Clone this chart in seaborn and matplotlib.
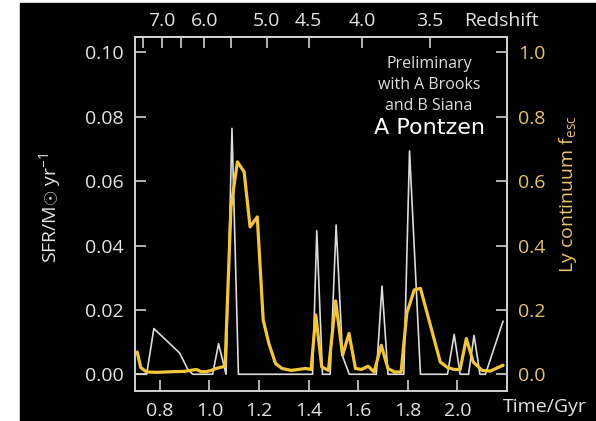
import matplotlib
matplotlib.use("Agg")
import matplotlib.pyplot as plt
from matplotlib.patches import Rectangle
import seaborn as sns
import pandas as pd

# Star formation rate history (left axis)
sfr_time = [0.707, 0.747, 0.776, 0.880, 0.913, 0.933, 1.013, 1.037, 1.067, 1.091,
            1.117, 1.416, 1.433, 1.456, 1.487, 1.511, 1.537, 1.564, 1.673, 1.696,
            1.720, 1.784, 1.807, 1.851, 1.960, 1.987, 2.011, 2.045, 2.067, 2.091,
            2.113, 2.184]
sfr = [0.0, 0.0, 0.0142, 0.0066, 0.0015, 0.0, 0.0, 0.0095, 0.0, 0.0764,
       0.0, 0.0, 0.0446, 0.0, 0.0, 0.0464, 0.0056, 0.0, 0.0, 0.0274,
       0.0, 0.0, 0.0694, 0.0, 0.0, 0.0124, 0.0, 0.0, 0.0121, 0.0,
       0.0, 0.0165]

# Lyman continuum escape fraction (right axis)
fesc_time = [0.709, 0.723, 0.747, 0.790, 0.850, 0.900, 0.947, 0.967, 0.987, 1.007,
             1.027, 1.063, 1.087, 1.113, 1.140, 1.164, 1.193, 1.217, 1.240, 1.267,
             1.293, 1.330, 1.387, 1.410, 1.429, 1.453, 1.480, 1.509, 1.537, 1.563,
             1.589, 1.613, 1.640, 1.664, 1.693, 1.720, 1.747, 1.773, 1.796, 1.826,
             1.851, 1.931, 1.960, 1.987, 2.011, 2.036, 2.064, 2.100, 2.133, 2.184]
fesc = [0.069, 0.021, 0.007, 0.006, 0.008, 0.009, 0.015, 0.008, 0.008, 0.012,
        0.018, 0.025, 0.520, 0.660, 0.629, 0.458, 0.489, 0.168, 0.095, 0.033,
        0.018, 0.012, 0.018, 0.015, 0.184, 0.023, 0.012, 0.228, 0.059, 0.127,
        0.018, 0.015, 0.025, 0.007, 0.090, 0.018, 0.007, 0.007, 0.190, 0.262,
        0.267, 0.038, 0.021, 0.015, 0.015, 0.111, 0.038, 0.012, 0.010, 0.028]

# Axis ticks
time_ticks = [0.8, 1.0, 1.2, 1.4, 1.6, 1.8, 2.0]
sfr_ticks = [0.00, 0.02, 0.04, 0.06, 0.08, 0.10]
fesc_ticks = [0.0, 0.2, 0.4, 0.6, 0.8, 1.0]
redshift_tick_time = [0.732, 0.808, 0.884, 0.980, 1.088, 1.232, 1.400, 1.616, 1.888]
redshift_labels = ["", "7.0", "", "6.0", "", "5.0", "4.5", "4.0", "3.5"]

sns.set_style("ticks")
plt.rcParams["font.family"] = ["Open Sans", "DejaVu Sans"]
plt.rcParams["mathtext.fontset"] = "custom"
plt.rcParams["mathtext.rm"] = "Open Sans"
plt.rcParams["mathtext.it"] = "Open Sans"

FG = "#e4e4e4"
GOLD = "#e6c270"
LINE_GOLD = "#f2c53a"
SPINE = "#d2d2d2"

W, H = 596, 421
fig = plt.figure(figsize=(W / 100, H / 100), dpi=100, facecolor="white")
fig.patches.append(Rectangle((20 / W, 0), 1 - 20 / W, (H - 3) / H,
                             transform=fig.transFigure, color="black", zorder=-10))

ax = fig.add_axes([135 / W, 1 - 391 / H, (507 - 135) / W, (391 - 37) / H])
ax.set_facecolor("black")
ax2 = ax.twinx()

df_sfr = pd.DataFrame({"time": sfr_time, "sfr": sfr})
df_fesc = pd.DataFrame({"time": fesc_time, "fesc": fesc})

sns.lineplot(data=df_sfr, x="time", y="sfr", ax=ax, color="#dcdcdc",
             linewidth=1.2, sort=False, estimator=None)
sns.lineplot(data=df_fesc, x="time", y="fesc", ax=ax2, color=LINE_GOLD,
             linewidth=2.3, sort=False, estimator=None)

ax.set_xlim(0.7, 2.2)
ax.set_ylim(-0.0052, 0.1048)
ax2.set_ylim(-0.052, 1.048)

ax.set_xticks(time_ticks, [f"{t:.1f}" for t in time_ticks])
ax.set_yticks(sfr_ticks, [f"{v:.2f}" for v in sfr_ticks])
ax2.set_yticks(fesc_ticks, [f"{v:.1f}" for v in fesc_ticks])
ax.set_xlabel("")
ax.set_ylabel("")
ax2.set_ylabel("")

for a in (ax, ax2):
    for s in a.spines.values():
        s.set_color(SPINE)
        s.set_linewidth(1.2)
        s.set_visible(True)

ax.tick_params(axis="both", direction="in", length=8, width=1.2, color=SPINE,
               labelcolor=FG, labelsize=14, pad=8)
ax2.tick_params(axis="y", direction="in", length=8, width=1.2, color=SPINE,
                labelcolor=GOLD, labelsize=14, pad=8)

top = ax.secondary_xaxis("top")
top.set_xticks(redshift_tick_time, redshift_labels)
top.tick_params(direction="in", length=8, width=1.2, color=SPINE,
                labelcolor=FG, labelsize=14, pad=5)
top.spines["top"].set_color(SPINE)
top.spines["top"].set_linewidth(1.2)

fig.text(501 / W, 1 - 21 / H, "Redshift", color=FG, fontsize=14,
         ha="center", va="center")
fig.text(545 / W, 1 - 407 / H, "Time/Gyr", color=FG, fontsize=14,
         ha="center", va="center")
fig.text(50 / W, 1 - 208 / H, r"SFR/M$\odot$ yr$^{-1}$", color=FG, fontsize=14,
         rotation=90, ha="center", va="center")
fig.text(568 / W, 1 - 194 / H, r"Ly continuum f$_{\rm esc}$", color=GOLD,
         fontsize=14, rotation=90, ha="center", va="center")

ax.text(429 / W, 1 - 85 / H, "Preliminary\nwith A Brooks\nand B Siana",
        transform=fig.transFigure, color="#dedede", fontsize=11.5,
        ha="center", va="center", linespacing=1.4)
ax.text(429 / W, 1 - 128 / H, "A Pontzen", transform=fig.transFigure,
        color="white", fontsize=16, ha="center", va="center",
        family="DejaVu Sans")

fig.savefig("out.png", dpi=100, facecolor=fig.get_facecolor())
